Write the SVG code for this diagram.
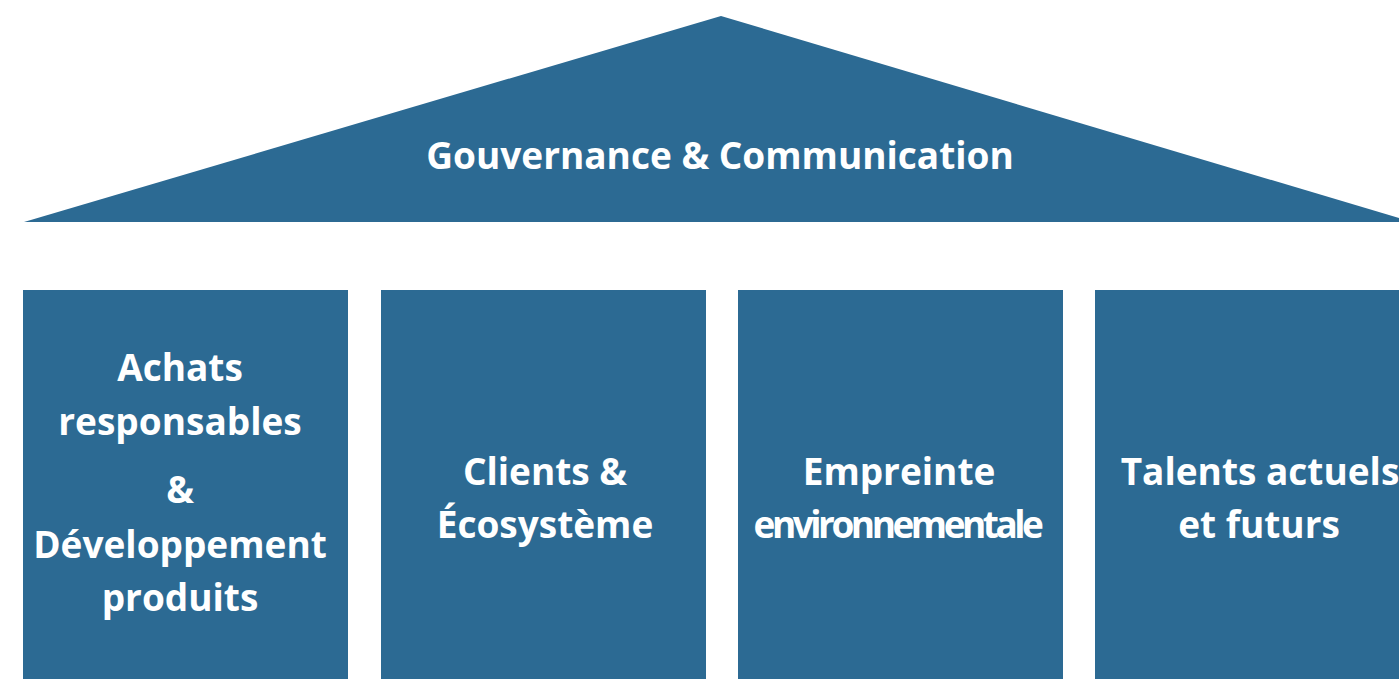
<svg xmlns="http://www.w3.org/2000/svg" width="1399" height="679" viewBox="0 0 1399 679">
<style>
.s{fill:#2c6a93}
.t{font-family:"Open Sans","Noto Sans",sans-serif;font-weight:bold;font-size:37px;fill:#fff;text-anchor:middle}
</style>
<rect width="1399" height="679" fill="#fff"/>
<g id="roof"><polygon class="s" points="721,16 1399,218 1399,222 24,222"/><text class="t" x="720" y="169">Gouvernance &amp; Communication</text></g>
<g id="pillar1"><rect class="s" x="23" y="290" width="325" height="389"/>
<text class="t" x="180" y="381">Achats</text><text class="t" x="180" y="435">responsables</text><text class="t" x="180" y="503">&amp;</text><text class="t" x="180" y="558">Développement</text><text class="t" x="180" y="611">produits</text></g>
<g id="pillar2"><rect class="s" x="381" y="290" width="325" height="389"/>
<text class="t" x="545" y="485">Clients &amp;</text><text class="t" x="545" y="538">Écosystème</text></g>
<g id="pillar3"><rect class="s" x="738" y="290" width="325" height="389"/>
<text class="t" x="899" y="485">Empreinte</text><text class="t" x="897" y="538" style="letter-spacing:-3.5px">environnementale</text></g>
<g id="pillar4"><rect class="s" x="1095" y="290" width="310" height="389"/>
<text class="t" x="1260" y="485">Talents actuels</text><text class="t" x="1259" y="538">et futurs</text></g>
<g id="connectors"/>
</svg>
